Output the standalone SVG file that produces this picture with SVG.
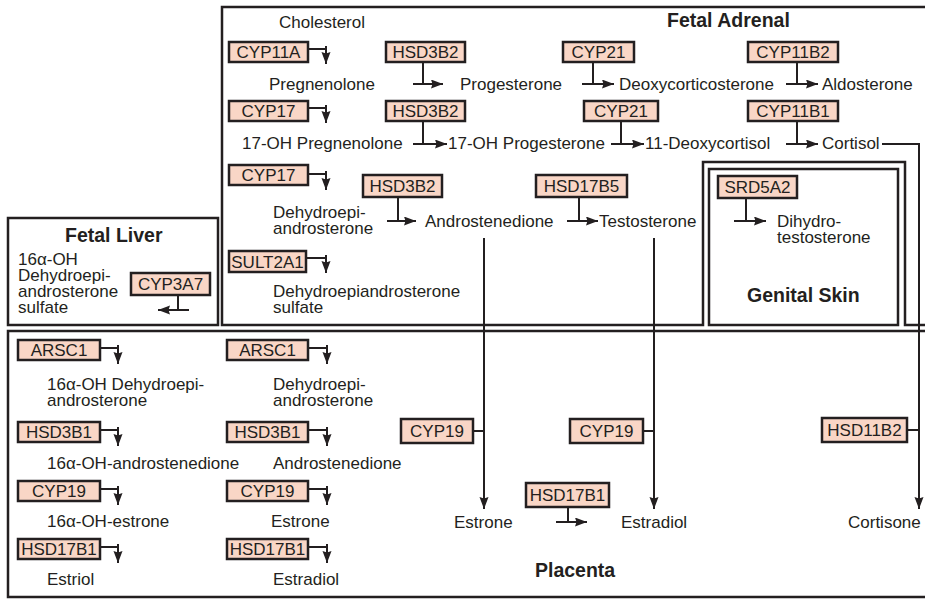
<svg xmlns="http://www.w3.org/2000/svg" width="925" height="601" viewBox="0 0 925 601">
  <style>
    text { font-family: "Liberation Sans", Arial, Helvetica, sans-serif; font-size: 17px; fill: #231f20; }
    .title { font-weight: bold; font-size: 19.5px; }
    .enz rect { fill: #f9d6c6; stroke: #231f20; stroke-width: 2.5; }
    .enz text { text-anchor: middle; }
    .frame { fill: none; stroke: #231f20; stroke-width: 2.5; }
    .ln { fill: none; stroke: #231f20; stroke-width: 2; }
    .arr { fill: none; stroke: #231f20; stroke-width: 2; marker-end: url(#head); }
  </style>
  <defs>
    <marker id="head" markerUnits="userSpaceOnUse" markerWidth="13" markerHeight="10" refX="12" refY="4.5" orient="auto">
      <path d="M0,0 L12,4.5 L0,9 L1.5,4.5 z" fill="#231f20"/>
    </marker>
  </defs>

  <rect width="925" height="601" fill="#ffffff"/>

  <!-- compartments -->
  <g id="fetal-adrenal">
    <path class="frame" d="M925,7 H222 V325 H703 V162 H905 V325 H925"/>
    <text class="title" x="667" y="27">Fetal Adrenal</text>
  </g>
  <g id="genital-skin">
    <rect class="frame" x="709" y="169" width="189" height="156"/>
    <text class="title" x="747" y="302">Genital Skin</text>
  </g>
  <g id="fetal-liver">
    <rect class="frame" x="8" y="218" width="210" height="107"/>
    <text class="title" x="65" y="242">Fetal Liver</text>
  </g>
  <g id="placenta">
    <path class="frame" d="M925,331 H8 V597 H925"/>
    <text class="title" x="535" y="577">Placenta</text>
  </g>

  <!-- metabolites -->
  <g id="metabolites">
    <text x="279" y="28">Cholesterol</text>
    <text x="269" y="90">Pregnenolone</text>
    <text x="460" y="90">Progesterone</text>
    <text x="619" y="90">Deoxycorticosterone</text>
    <text x="822" y="90">Aldosterone</text>
    <text x="242" y="149">17-OH Pregnenolone</text>
    <text x="448" y="149">17-OH Progesterone</text>
    <text x="645" y="149">11-Deoxycortisol</text>
    <text x="822" y="149">Cortisol</text>
    <text x="273" y="218">Dehydroepi-</text>
    <text x="273" y="234">androsterone</text>
    <text x="425" y="227">Androstenedione</text>
    <text x="599" y="227">Testosterone</text>
    <text x="777" y="227">Dihydro-</text>
    <text x="777" y="243">testosterone</text>
    <text x="273" y="297">Dehydroepiandrosterone</text>
    <text x="273" y="313">sulfate</text>
    <text x="18" y="265">16α-OH</text>
    <text x="18" y="281">Dehydroepi-</text>
    <text x="18" y="297">androsterone</text>
    <text x="18" y="313">sulfate</text>
    <text x="47" y="390">16α-OH Dehydroepi-</text>
    <text x="47" y="406">androsterone</text>
    <text x="273" y="390">Dehydroepi-</text>
    <text x="273" y="406">androsterone</text>
    <text x="47" y="469">16α-OH-androstenedione</text>
    <text x="273" y="469">Androstenedione</text>
    <text x="47" y="527">16α-OH-estrone</text>
    <text x="271" y="527">Estrone</text>
    <text x="47" y="585">Estriol</text>
    <text x="273" y="585">Estradiol</text>
    <text x="454" y="528">Estrone</text>
    <text x="621" y="528">Estradiol</text>
    <text x="848" y="528">Cortisone</text>
  </g>

  <!-- enzymes -->
  <g id="cyp11a" class="enz"><rect x="229" y="42" width="79" height="20"/><text x="268.5" y="58">CYP11A</text></g>
  <g id="hsd3b2-a" class="enz"><rect x="386" y="42" width="79" height="20"/><text x="425.5" y="58">HSD3B2</text></g>
  <g id="cyp21-a" class="enz"><rect x="563" y="42" width="71" height="20"/><text x="598.5" y="58">CYP21</text></g>
  <g id="cyp11b2" class="enz"><rect x="748" y="42" width="90" height="20"/><text x="793" y="58">CYP11B2</text></g>
  <g id="cyp17-a" class="enz"><rect x="229" y="101" width="79" height="20"/><text x="268.5" y="117">CYP17</text></g>
  <g id="hsd3b2-b" class="enz"><rect x="386" y="101" width="79" height="20"/><text x="425.5" y="117">HSD3B2</text></g>
  <g id="cyp21-b" class="enz"><rect x="584" y="101" width="74" height="20"/><text x="621" y="117">CYP21</text></g>
  <g id="cyp11b1" class="enz"><rect x="748" y="101" width="90" height="20"/><text x="793" y="117">CYP11B1</text></g>
  <g id="cyp17-b" class="enz"><rect x="229" y="165" width="79" height="20"/><text x="268.5" y="181">CYP17</text></g>
  <g id="hsd3b2-c" class="enz"><rect x="363" y="175" width="79" height="22"/><text x="402.5" y="192">HSD3B2</text></g>
  <g id="hsd17b5" class="enz"><rect x="536" y="175" width="91" height="22"/><text x="581.5" y="192">HSD17B5</text></g>
  <g id="srd5a2" class="enz"><rect x="718" y="176" width="79" height="22"/><text x="757.5" y="193">SRD5A2</text></g>
  <g id="sult2a1" class="enz"><rect x="229" y="251" width="77" height="21"/><text x="267.5" y="268">SULT2A1</text></g>
  <g id="cyp3a7" class="enz"><rect x="131" y="273" width="79" height="22"/><text x="170.5" y="290">CYP3A7</text></g>
  <g id="arsc1-a" class="enz"><rect x="18" y="340" width="82" height="20"/><text x="59" y="356">ARSC1</text></g>
  <g id="arsc1-b" class="enz"><rect x="227" y="340" width="81" height="20"/><text x="267.5" y="356">ARSC1</text></g>
  <g id="hsd3b1-a" class="enz"><rect x="18" y="422" width="82" height="20"/><text x="59" y="438">HSD3B1</text></g>
  <g id="hsd3b1-b" class="enz"><rect x="227" y="422" width="81" height="20"/><text x="267.5" y="438">HSD3B1</text></g>
  <g id="cyp19-a" class="enz"><rect x="18" y="481" width="82" height="20"/><text x="59" y="497">CYP19</text></g>
  <g id="cyp19-b" class="enz"><rect x="227" y="481" width="81" height="20"/><text x="267.5" y="497">CYP19</text></g>
  <g id="hsd17b1-a" class="enz"><rect x="18" y="539" width="82" height="20"/><text x="59" y="555">HSD17B1</text></g>
  <g id="hsd17b1-b" class="enz"><rect x="227" y="539" width="81" height="20"/><text x="267.5" y="555">HSD17B1</text></g>
  <g id="cyp19-c" class="enz"><rect x="401" y="419" width="72" height="24"/><text x="437" y="437">CYP19</text></g>
  <g id="cyp19-d" class="enz"><rect x="570" y="419" width="73" height="24"/><text x="606.5" y="437">CYP19</text></g>
  <g id="hsd11b2" class="enz"><rect x="822" y="418" width="85" height="24"/><text x="864.5" y="436">HSD11B2</text></g>
  <g id="hsd17b1-c" class="enz"><rect x="526" y="483" width="83" height="24"/><text x="567.5" y="501">HSD17B1</text></g>

  <!-- connectors -->
  <g id="connectors">
    <!-- side taps with downward arrows -->
    <path class="ln" d="M308,49 H326"/><path class="arr" d="M326,46 V64"/>
    <path class="ln" d="M308,108 H326"/><path class="arr" d="M326,105 V123"/>
    <path class="ln" d="M308,174 H326"/><path class="arr" d="M326,171 V190"/>
    <path class="ln" d="M306,258 H326"/><path class="arr" d="M326,255 V273"/>
    <path class="ln" d="M100,348 H118"/><path class="arr" d="M118,345 V364"/>
    <path class="ln" d="M308,348 H327"/><path class="arr" d="M327,345 V364"/>
    <path class="ln" d="M100,430 H118"/><path class="arr" d="M118,427 V446"/>
    <path class="ln" d="M308,430 H327"/><path class="arr" d="M327,427 V446"/>
    <path class="ln" d="M100,489 H118"/><path class="arr" d="M118,486 V505"/>
    <path class="ln" d="M308,489 H327"/><path class="arr" d="M327,486 V505"/>
    <path class="ln" d="M100,547 H118"/><path class="arr" d="M118,544 V563"/>
    <path class="ln" d="M308,547 H327"/><path class="arr" d="M327,544 V563"/>

    <!-- drop taps with sideways arrows -->
    <path class="ln" d="M423,62 V84"/><path class="arr" d="M413,84 H443"/>
    <path class="ln" d="M593,62 V84"/><path class="arr" d="M582,84 H614"/>
    <path class="ln" d="M797,62 V84"/><path class="arr" d="M786,84 H818"/>
    <path class="ln" d="M423,121 V144"/><path class="arr" d="M413,144 H447"/>
    <path class="ln" d="M621,121 V144"/><path class="arr" d="M611,144 H644"/>
    <path class="ln" d="M797,121 V144"/><path class="arr" d="M786,144 H818"/>
    <path class="ln" d="M398,197 V221"/><path class="arr" d="M387,221 H416"/>
    <path class="ln" d="M579,197 V221"/><path class="arr" d="M567,221 H598"/>
    <path class="ln" d="M746,198 V221"/><path class="arr" d="M734,221 H766"/>
    <path class="ln" d="M178,295 V310"/><path class="arr" d="M189,310 H158"/>
    <path class="ln" d="M568,507 V522"/><path class="arr" d="M556,522 H587"/>

    <!-- long transfers into the placenta -->
    <path class="arr" d="M484,238 V509"/>
    <path class="ln" d="M473,431 H484"/>
    <path class="arr" d="M654,238 V509"/>
    <path class="ln" d="M643,431 H654"/>
    <path class="arr" d="M882,144 H919 V509"/>
    <path class="ln" d="M907,430 H919"/>
  </g>
</svg>
